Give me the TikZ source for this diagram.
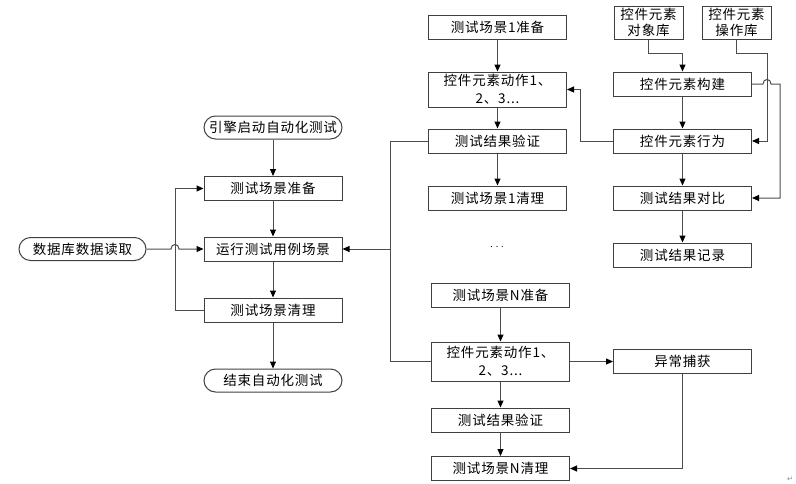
\documentclass[tikz,border=0pt]{standalone}
\usepackage{fontspec}
\setmainfont[LetterSpace=6]{Noto Sans CJK SC}
\newfontfamily\symfont{DejaVu Sans}
\usepackage{tikz}
\usetikzlibrary{positioning, arrows.meta}
\tikzstyle{startstop} = [rectangle, rounded corners=11.5pt, minimum width=138pt, minimum height=23pt, text centered, draw=black!75, line width=1pt, inner sep=1pt]
\tikzstyle{process} = [rectangle, minimum width=138pt, minimum height=24pt, text centered, draw=black!75, line width=1pt, inner sep=1pt]
\tikzstyle{library} = [process, minimum width=69pt, minimum height=33pt, align=center, font=\fontsize{13.5}{16}\selectfont]
\tikzstyle{arrow} = [line width=1pt, black!70, -{Triangle[length=7pt,width=6pt,color=black]}]
\tikzstyle{line} = [line width=1pt, black!70]

\begin{document}
\begin{tikzpicture}[x=1pt, y=-1pt, font=\fontsize{13.5}{18}\selectfont]
        \useasboundingbox (0,0) rectangle (796,483);

        % main flow
        \node[startstop]                       (start)   at (273,127.5) {引擎启动自动化测试};
        \node[process]                         (prepare) at (273,188.5) {测试场景准备};
        \node[process]                         (run)     at (273,249)   {运行测试用例场景};
        \node[process]                         (clean)   at (273,310)   {测试场景清理};
        \node[startstop]                       (finish)  at (273,380.5) {结束自动化测试};
        \node[startstop, minimum width=127pt]  (db)      at (82.5,249)  {数据库数据读取};

        % scenario 1
        \node[process]                         (s1 prep)  at (497.5,27)   {测试场景1准备};
        \node[process, minimum height=35pt, align=center] (s1 act) at (497.5,89.5) {控件元素动作1、\\2、3...};
        \node[process]                         (s1 check) at (497.5,141)  {测试结果验证};
        \node[process]                         (s1 clean) at (497.5,198)  {测试场景1清理};
        \node[font=\fontsize{9}{9}\selectfont] (dots)     at (497,247)    {.\,\,.\,\,.};

        % scenario N
        \node[process]                         (sN prep)  at (500.5,295)  {测试场景N准备};
        \node[process, minimum height=39pt, align=center] (sN act) at (500.5,361.5) {控件元素动作1、\\2、3...};
        \node[process]                         (sN check) at (500.5,420)  {测试结果验证};
        \node[process]                         (sN clean) at (500.5,468.5) {测试场景N清理};

        % element side
        \node[library]                         (obj lib)  at (648.5,22.5) {控件元素\\对象库};
        \node[library]                         (op lib)   at (736.5,22.5) {控件元素\\操作库};
        \node[process]                         (build)    at (682.5,84)   {控件元素构建};
        \node[process]                         (behave)   at (682.5,141)  {控件元素行为};
        \node[process]                         (compare)  at (682.5,198)  {测试结果对比};
        \node[process]                         (record)   at (682.5,255)  {测试结果记录};
        \node[process]                         (except)   at (682.5,361)  {异常捕获};

        \node[font=\symfont\fontsize{7}{7}\selectfont, text=black!50] (mark) at (790,479) {↵};

        % bend points
        \coordinate (loop x) at (175,0);
        \coordinate (bus x)  at (390,0);
        \coordinate (back x) at (580,0);
        \coordinate (op x)   at (767,0);
        \coordinate (cmp x)  at (780,0);
        \coordinate (lib y)  at (0,53);

        \draw[arrow] (start)   -- (prepare);
        \draw[arrow] (prepare) -- (run);
        \draw[arrow] (run)     -- (clean);
        \draw[arrow] (clean)   -- (finish);
        \draw[arrow] (clean.west) -- (loop x |- clean.west) |- (prepare.west);
        \draw[arrow] (db.east) -- ([xshift=-4pt]loop x |- db.east) .. controls +(0,-6) and +(0,-6) .. ([xshift=4pt]loop x |- db.east) -- (run.west);

        \draw[line]  (s1 check.west) -- (bus x |- s1 check.west) -- (bus x |- sN act.west) -- (sN act.west);
        \draw[arrow] (bus x |- run.east) -- (run.east);

        \draw[arrow] (s1 prep)  -- (s1 act);
        \draw[arrow] (s1 act)   -- (s1 check);
        \draw[arrow] (s1 check) -- (s1 clean);

        \draw[arrow] (sN prep)  -- (sN act);
        \draw[arrow] (sN act)   -- (sN check);
        \draw[arrow] (sN check) -- (sN clean);
        \draw[arrow] (sN act.east) -- (sN act.east -| except.west);
        \draw[arrow] (except.south) |- (sN clean.east);

        \draw[arrow] (obj lib.south) -- (obj lib.south |- lib y) -| (build.north);
        \draw[arrow] (op lib.south) -- (op lib.south |- lib y) -| (op x |- behave.east) -- (behave.east);
        \draw[arrow] (build.east) -- ([xshift=-4pt]op x |- build.east) .. controls +(0,-6) and +(0,-6) .. ([xshift=4pt]op x |- build.east) -| (cmp x |- compare.east) -- (compare.east);
        \draw[arrow] (build)   -- (behave);
        \draw[arrow] (behave)  -- (compare);
        \draw[arrow] (compare) -- (record);
        \draw[arrow] (behave.west) -- (back x |- behave.west) |- (s1 act.east);
    \end{tikzpicture}
\end{document}
